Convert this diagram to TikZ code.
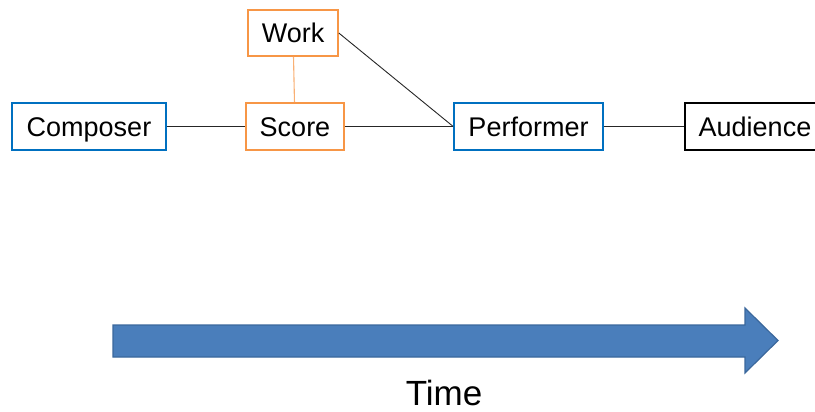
\documentclass[tikz,border=0pt]{standalone}
\usepackage{fontspec}
\setmainfont{Liberation Sans}
\usepackage{xcolor}
\usepackage{tikz}
\usetikzlibrary{calc}
\usetikzlibrary{positioning}
\definecolor{agentblue}{HTML}{0070C0}
\definecolor{scoreorange}{HTML}{F79646}
\definecolor{timefill}{HTML}{4A7EBB}
\definecolor{timeedge}{HTML}{3A679C}
\tikzstyle{box} = [draw, line width = 1.6pt, inner sep = 0, minimum height = 47pt, text height = 23pt, text depth = 3pt, font = \fontsize{27}{32}\selectfont]
\tikzstyle{agent} = [box, draw = agentblue]
\tikzstyle{thing} = [box, draw = scoreorange]
\tikzstyle{link} = [-, line width = 0.9pt, draw = black!85]

\begin{document}
\begin{tikzpicture}[x = 1pt, y = -1pt]
\useasboundingbox (0, 0) rectangle (815, 412);
\clip (0, 0) rectangle (815, 412);
\node [agent, minimum width = 154pt]  (composer)  at (89, 126.5)  {Composer};
\node [thing, minimum width = 98pt]   (score)     at (295, 126.5) {Score};
\node [thing, minimum width = 90pt, minimum height = 46pt] (work) at (293, 33) {Work};
\node [agent, minimum width = 149pt]  (performer) at (528.5, 126.5) {Performer};
\node [box, minimum width = 140pt]    (audience)  at (755, 126.5) {Audience};
\draw [link] (composer) -- (score);
\draw [link] (score) -- (performer);
\draw [link] (work.east) -- (performer.west);
\draw [link] (performer) -- (audience);
\draw [-, line width = 1.1pt, draw = scoreorange!75] (work) -- (score);
% time arrow
\draw [fill = timefill, draw = timeedge, line width = 1.2pt]
  (113, 325) -- (745, 325) -- (745, 308) -- (778, 340.5) -- (745, 373) -- (745, 357) -- (113, 357) -- cycle;
\node [draw=none, font = \fontsize{35}{40}\selectfont] (time) at (444, 393) {Time};
\end{tikzpicture}
\end{document}
